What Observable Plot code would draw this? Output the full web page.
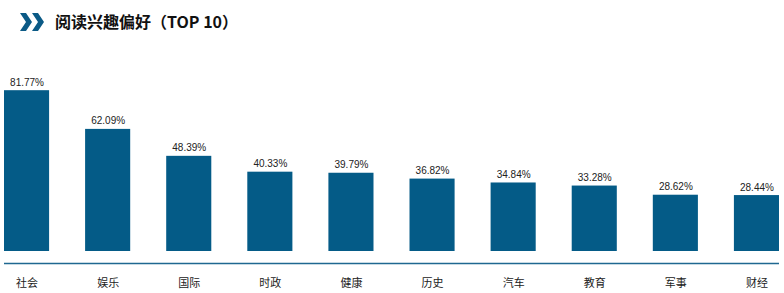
<!DOCTYPE html>
<html><head><meta charset="utf-8">
<script src="https://cdn.jsdelivr.net/npm/d3@7"></script>
<script src="https://cdn.jsdelivr.net/npm/@observablehq/plot@0.6"></script>
<style>
body{margin:0;background:#fff;font-family:"Noto Sans CJK SC","Liberation Sans",sans-serif;}
#title{height:42px;position:relative;}
#title svg{position:absolute;left:20px;top:13px;}
#title span{position:absolute;left:55px;top:9px;font-size:16px;font-weight:bold;color:#111;}
</style></head>
<body>
<div id="title"><svg width="26" height="18" viewBox="0 0 26 18"><polygon points="0,0 6,0 12,9 6,18 0,18 6,9" fill="#0b5a86"/><polygon points="12,0 18,0 24,9 18,18 12,18 18,9" fill="#0b5a86"/></svg><span>阅读兴趣偏好（TOP 10）</span></div>
<div id="chart"></div>
<script>
const categories = ["社会","娱乐","国际","时政","健康","历史","汽车","教育","军事","财经"];
const values = [81.77,62.09,48.39,40.33,39.79,36.82,34.84,33.28,28.62,28.44];
const data = categories.map((c,i)=>({cat:c, v:values[i]}));
const chart = Plot.plot({
  width:784, height:251,
  marginLeft:4, marginRight:5, marginTop:32, marginBottom:42,
  style:{fontFamily:'"Noto Sans CJK SC","Liberation Sans",sans-serif', background:"#fff"},
  x:{domain:categories, paddingInner:0.444, paddingOuter:0, round:false, label:null},
  y:{domain:[0,90], axis:null},
  marks:[
    Plot.barY(data,{x:"cat", y:"v", fill:"#045b87"}),
    Plot.text(data,{x:"cat", y:"v", text:d=>d.v.toFixed(2)+"%", dy:-5, lineAnchor:"bottom", fontSize:10, fill:"#222", fontFamily:'"Liberation Sans",Arial,sans-serif'}),
    Plot.ruleY([0],{dy:12, stroke:"#1f6891", strokeWidth:1.5}),
    Plot.axisX({tickSize:0, tickPadding:28, fontSize:11, color:"#222"})
  ]
});
document.getElementById("chart").appendChild(chart);
</script>
</body></html>
